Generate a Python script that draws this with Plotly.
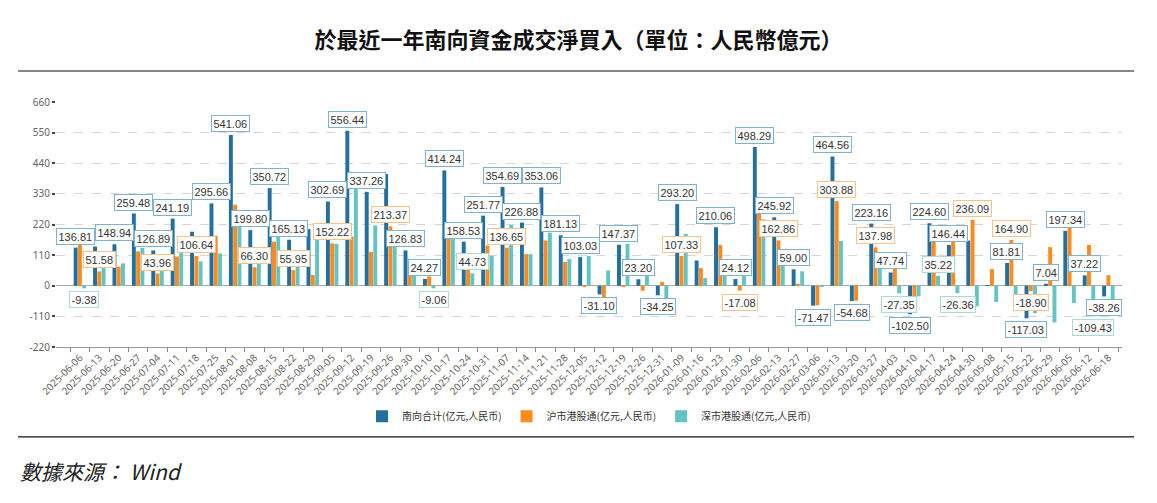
import plotly.graph_objects as go

categories = [
    "2025-06-06", "2025-06-13", "2025-06-20", "2025-06-27", "2025-07-04", "2025-07-11",
    "2025-07-18", "2025-07-25", "2025-08-01", "2025-08-08", "2025-08-15", "2025-08-22",
    "2025-08-29", "2025-09-05", "2025-09-12", "2025-09-19", "2025-09-26", "2025-09-30",
    "2025-10-10", "2025-10-17", "2025-10-24", "2025-10-31", "2025-11-07", "2025-11-14",
    "2025-11-21", "2025-11-28", "2025-12-05", "2025-12-12", "2025-12-19", "2025-12-26",
    "2025-12-31", "2026-01-09", "2026-01-16", "2026-01-23", "2026-01-30", "2026-02-06",
    "2026-02-13", "2026-02-27", "2026-03-06", "2026-03-13", "2026-03-20", "2026-03-27",
    "2026-04-03", "2026-04-10", "2026-04-17", "2026-04-24", "2026-04-30", "2026-05-08",
    "2026-05-15", "2026-05-22", "2026-05-29", "2026-06-05", "2026-06-12", "2026-06-18",
]

south_total = [
    136.81, 141.00, 148.94, 259.48, 126.89, 241.19, 194.00, 295.66, 541.06, 199.80,
    350.72, 165.13, 203.40, 302.69, 556.44, 337.26, 401.00, 126.83, 24.27, 414.24,
    158.53, 251.77, 354.69, 226.88, 353.06, 181.13, 103.03, -31.10, 147.37, 23.20,
    -34.25, 293.20, 90.70, 210.06, 24.12, 498.29, 245.92, 59.00, -71.47, 464.56,
    -54.68, 223.16, 47.74, -102.50, 224.60, 146.44, 162.16, 1.62, 81.81, -117.03,
    7.04, 197.34, 37.22, -38.26,
]

sh_connect = [
    146.19, 51.58, 68.50, 123.50, 43.96, 105.00, 106.64, 179.50, 291.00, 66.30,
    158.50, 55.95, 38.60, 152.22, 177.00, 121.00, 213.37, 63.00, 33.33, 195.60,
    113.80, 144.50, 136.65, 113.50, 162.50, 85.50, -3.50, -86.10, -2.50, -18.00,
    14.00, 107.33, 63.00, 146.80, -17.08, 260.00, 162.86, 7.20, -70.10, 303.88,
    -53.90, 137.98, 75.09, -64.50, 189.38, 172.80, 236.09, 59.80, 164.90, -18.90,
    138.50, 259.00, 146.65, 38.00,
]

sz_connect = [
    -9.38, 89.42, 80.44, 135.98, 82.93, 136.19, 87.36, 116.16, 250.06, 133.50,
    192.22, 109.18, 164.80, 150.47, 379.44, 216.26, 187.63, 63.83, -9.06, 218.64,
    44.73, 107.27, 218.04, 113.38, 190.56, 95.63, 106.53, 55.00, 149.87, 41.20,
    -48.25, 185.87, 27.70, 63.26, 41.20, 238.29, 83.06, 51.80, -1.37, 160.68,
    -0.78, 85.18, -27.35, -38.00, 35.22, -26.36, -73.93, -58.18, -83.09, -98.13,
    -131.46, -61.66, -109.43, -76.26,
]

series_names = ["南向合计(亿元,人民币)", "沪市港股通(亿元,人民币)", "深市港股通(亿元,人民币)"]

# category indices whose value label is displayed, per series
south_label_idx = [0, 2, 3, 4, 5, 7, 8, 9, 10, 11, 13, 14, 15, 17, 18, 19, 20, 21, 22, 23,
                   24, 25, 26, 27, 28, 29, 30, 31, 33, 34, 35, 36, 37, 38, 39, 40, 41, 42,
                   43, 44, 45, 48, 49, 50, 51, 52, 53]
sh_label_idx = [1, 4, 6, 9, 11, 13, 16, 22, 31, 34, 36, 39, 41, 46, 48, 49]
sz_label_idx = [0, 18, 20, 42, 44, 45, 52]

y_ticks = [-220, -110, 0, 110, 220, 330, 440, 550, 660]

bar_colors = ["#23709f", "#fb8a1f", "#62c4c3"]
label_borders = ["#7fb1d1", "#fbc283", "#a6dcdb"]

fig = go.Figure()
for name, vals, col in zip(series_names, [south_total, sh_connect, sz_connect], bar_colors):
    fig.add_trace(go.Bar(x=categories, y=vals, name=name, marker_color=col,
                         marker_line_width=0))

bar_offsets = [-4.4, 0.0, 4.4]
annotations = []
for s, (vals, idxs) in enumerate(zip([south_total, sh_connect, sz_connect],
                                      [south_label_idx, sh_label_idx, sz_label_idx])):
    for i in idxs:
        v = vals[i]
        annotations.append(dict(
            x=categories[i], y=v, xref="x", yref="y", text=f"{v:.2f}",
            showarrow=False, xshift=bar_offsets[s],
            yanchor="bottom" if v >= 0 else "top",
            yshift=3 if v >= 0 else -3,
            bgcolor="white", bordercolor=label_borders[s], borderwidth=1, borderpad=1.5,
            font=dict(size=11, color="#333333", family="Liberation Sans"),
        ))

annotations.append(dict(
    x=-0.0356, y=-0.506, xref="paper", yref="paper", xanchor="left", yanchor="middle",
    text="<i>數據來源： Wind</i>", showarrow=False,
    font=dict(size=21, color="#222222", family="Noto Sans CJK TC"),
))

fig.update_layout(
    width=1157, height=503,
    margin=dict(l=56, r=35, t=102, b=156),
    paper_bgcolor="white", plot_bgcolor="white",
    barmode="group", bargap=0.34, bargroupgap=0.08,
    title=dict(text="於最近一年南向資金成交淨買入（單位：人民幣億元）",
               x=0.5, xanchor="center", xref="container",
               y=1 - 40 / 503, yanchor="middle", yref="container",
               font=dict(size=22, color="#111111", family="Noto Sans CJK TC", weight="bold")),
    font=dict(family="Noto Sans CJK SC", size=10, color="#666666"),
    showlegend=True,
    legend=dict(orientation="h", x=0.5, xanchor="center", y=-0.283, yanchor="middle",
                font=dict(size=10, color="#333333", family="Noto Sans CJK SC"),
                itemwidth=30, tracegroupgap=0),
    annotations=annotations,
    shapes=[
        dict(type="line", xref="paper", yref="paper", x0=-0.0356, x1=1.0113,
             y0=1.1265, y1=1.1265, line=dict(color="#111111", width=1.2)),
        dict(type="line", xref="paper", yref="paper", x0=-0.0356, x1=1.0113,
             y0=-0.367, y1=-0.367, line=dict(color="#111111", width=1.2)),
    ],
)

fig.update_xaxes(
    type="category", tickangle=-45, tickson="boundaries",
    ticks="outside", ticklen=4, tickcolor="#888888",
    showline=True, linecolor="#999999", linewidth=1,
    showgrid=False, tickfont=dict(size=10, color="#666666", family="Noto Sans"),
)
fig.update_yaxes(
    range=[-220, 660], tickvals=y_ticks, ticktext=[str(t) for t in y_ticks],
    showgrid=True, gridcolor="#d6d6d6", griddash="dash", gridwidth=1,
    zeroline=True, zerolinecolor="#aaaaaa", zerolinewidth=1,
    ticks="outside", ticklen=3, tickwidth=2, tickcolor="#444444",
    showline=False, tickfont=dict(size=10, color="#666666", family="Noto Sans"),
)

fig.write_html("out.html")
